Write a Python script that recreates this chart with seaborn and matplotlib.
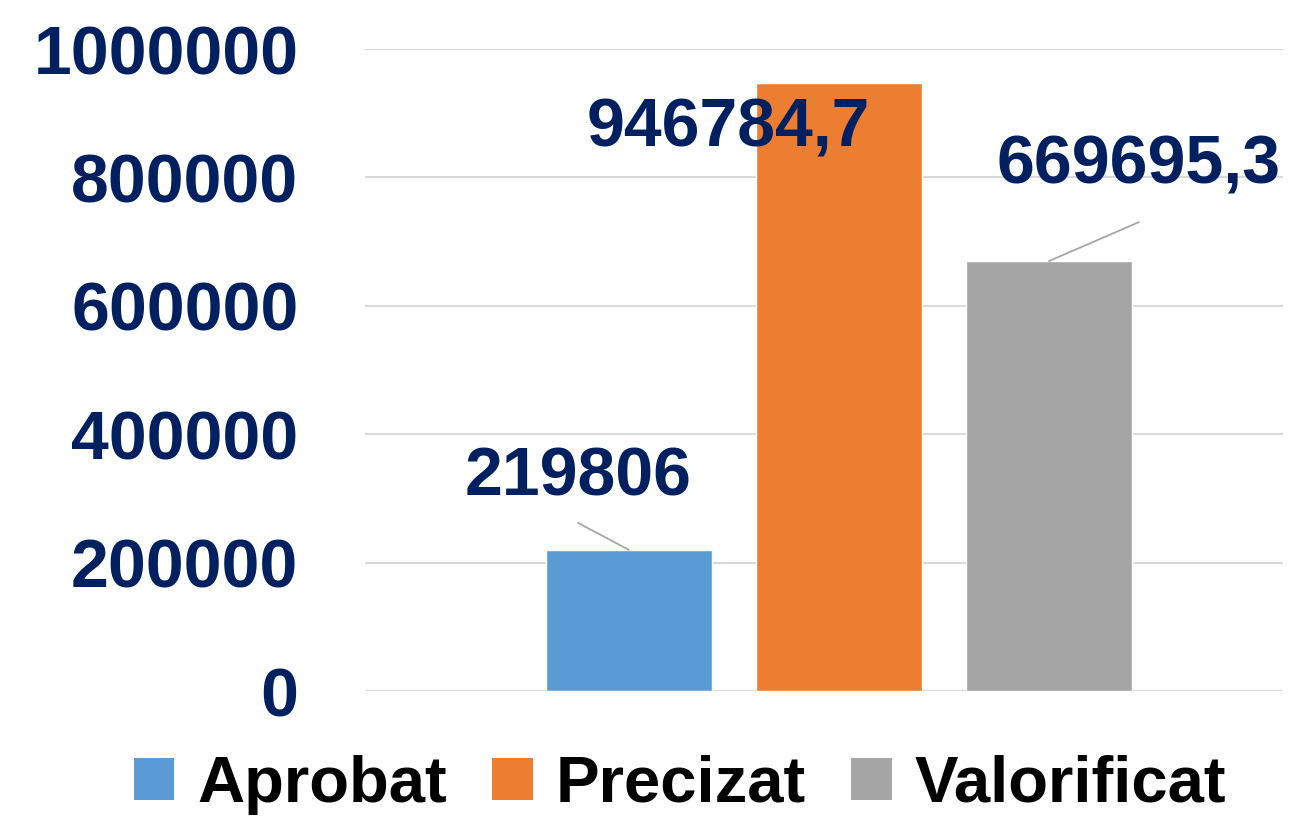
import matplotlib
matplotlib.use("Agg")
import matplotlib.pyplot as plt
import seaborn as sns
import pandas as pd
from matplotlib.patches import Patch

# data
categories = ["Aprobat", "Precizat", "Valorificat"]
values = [219806, 946784.7, 669695.3]
value_labels = ["219806", "946784,7", "669695,3"]
colors = ["#5B9BD5", "#ED7D31", "#A5A5A5"]
y_ticks = [0, 200000, 400000, 600000, 800000, 1000000]

navy = "#002060"

sns.set_theme(style="white")
plt.rcParams["font.family"] = ["Liberation Sans", "DejaVu Sans"]

df = pd.DataFrame({"cat": categories, "val": values})

fig = plt.figure(figsize=(12.97, 8.17), dpi=100)
ax = fig.add_axes([0.2814, 0.1542, 0.7078, 0.7858])

sns.barplot(data=df, x="cat", y="val", hue="cat", palette=colors,
            width=0.79, dodge=False, legend=False, ax=ax, saturation=1)

ax.set_ylim(0, 1000000)
ax.set_xlim(-1.257, 3.114)
ax.set_yticks(y_ticks)
ax.set_yticklabels([str(t) for t in y_ticks], fontsize=49,
                   fontweight="bold", color=navy)
ax.tick_params(axis="y", length=0, pad=48)
ax.set_xticks([])
ax.set_xlabel("")
ax.set_ylabel("")
for s in ax.spines.values():
    s.set_visible(False)
ax.yaxis.grid(True, color="#d9d9d9", linewidth=1.5)
ax.set_axisbelow(True)

# data labels: (text offset, leader start offset) in pixels from bar top
offsets = [((-51, 72), (-51, 27)), ((-111, -45), None), ((90, 96), (90, 39))]
for i, (v, lab) in enumerate(zip(values, value_labels)):
    txt_off, lead_off = offsets[i]
    ax.annotate(lab, xy=(i, v), xytext=txt_off, textcoords="offset pixels",
                ha="center", va="center", fontsize=49, fontweight="bold",
                color=navy, zorder=5)
    if lead_off is not None:
        ax.annotate("", xy=(i, v), xytext=lead_off, textcoords="offset pixels",
                    arrowprops=dict(arrowstyle="-", color="#a6a6a6", lw=1.3,
                                    shrinkA=0, shrinkB=0))

handles = [Patch(facecolor=c, edgecolor="none") for c in colors]
leg = fig.legend(handles, categories, loc="center", ncol=3, frameon=False,
                 bbox_to_anchor=(680 / 1297, 1 - 785 / 817),
                 prop={"size": 47, "weight": "bold"},
                 handlelength=0.62, handleheight=0.62, handletextpad=0.35,
                 columnspacing=0.7)
for t in leg.get_texts():
    t.set_color("black")

fig.savefig("out.png", dpi=100)
